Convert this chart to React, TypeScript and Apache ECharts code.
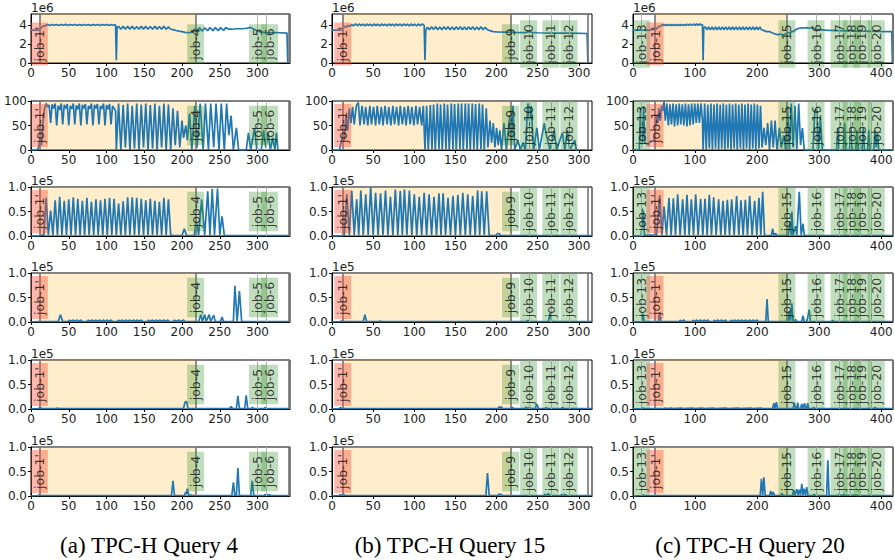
import React, { useEffect, useRef } from "react";
import * as echarts from "echarts";

// ---------------- DATA ----------------
// Row 1: memory (units of 1e6), Row 2: CPU (%), Rows 3-6: I/O metrics (units of 1e5)

// (a) TPC-H Query 4
const q4XMax = 343;
const q4XTicks = [0, 50, 100, 150, 200, 250, 300];
const q4Phase = [11, 218];
const q4PhaseLines = [11, 218, 341];
const q4JobLines = [300, 311];
const q4Jobs: [string, number][] = [["job-1'", 11], ["job-4", 218], ["job-5", 300], ["job-6", 316]];

const q4Mem = [[0,3.45],[10,3.45],[12,3.55],[14,3.75],[16,3.85],[18,3.9],[20,3.95],
[22,4.05],[25,3.95],[28,4.05],[31,3.96],[34,4.05],[37,3.95],[40,4.05],[43,3.96],[46,4.06],[49,3.95],[52,4.05],[55,3.96],[58,4.05],[61,3.95],[64,4.04],[67,3.95],[70,4.05],[73,3.96],[76,4.05],[79,3.95],[82,4.04],[85,3.96],[88,4.05],[91,3.95],[94,4.05],[97,3.96],[100,4.05],[103,3.95],[106,4.05],[109,3.96],[111,4.02],
[112,3.98],[113,0.3],[114,3.75],
[116,3.85],[119,3.55],[122,3.85],[125,3.55],[128,3.85],[131,3.56],[134,3.85],[137,3.55],[140,3.84],[143,3.55],[146,3.85],[149,3.56],[152,3.85],[155,3.55],[158,3.84],[161,3.55],[164,3.85],[167,3.56],[170,3.84],[173,3.55],[176,3.85],[179,3.55],[182,3.8],[185,3.55],[188,3.5],[192,3.42],[196,3.35],[200,3.3],[204,3.22],[208,3.2],[212,3.22],[214,3.3],
[217,3.6],[220,3.35],[223,3.7],[227,3.35],[230,3.7],[234,3.4],[237,3.72],[241,3.4],[244,3.72],[248,3.4],[251,3.72],[255,3.42],[258,3.72],[262,3.55],
[266,3.55],[272,3.6],[280,3.6],[286,3.65],[290,3.75],[294,3.6],[298,3.45],[302,3.3],[308,3.22],[320,3.2],[330,3.18],[339,3.15],[340,0.05]];

const q4Cpu = [[0,0],[8,0],[10,5],[12,25],[14,10],[16,60],[18,85],[20,95],
[22,88],[24,92],[26,55],[28,93],[30,85],[32,95],[34,50],[36,90],[38,82],[40,95],[42,52],[44,92],[46,85],[48,94],[50,50],[52,90],[54,84],[56,95],[58,52],[60,91],[62,83],[64,95],[66,50],[68,92],[70,85],[72,94],[74,52],[76,90],[78,84],[80,95],[82,50],[84,92],[86,85],[88,94],[90,52],[92,90],[94,84],[96,95],[98,50],[100,92],[102,83],[104,94],[106,52],[108,90],[110,85],[112,80],
[113,0],
[116,95],[119,0],[122,92],[125,5],[128,95],[131,0],[134,90],[137,3],[140,95],[143,0],[146,93],[149,5],[152,95],[155,0],[158,92],[161,3],[164,95],[167,0],[170,90],[173,5],[176,95],[179,0],[182,93],[185,0],[188,85],[191,10],[194,80],[197,5],[200,60],[202,25],[205,50],[207,20],[210,75],[213,0],
[217,90],[220,5],[224,95],[228,0],[231,95],[235,0],[238,95],[242,5],[245,95],[249,0],[252,95],[256,0],[259,95],[262,30],[265,70],[268,0],[272,45],[275,0],[285,0],[288,35],[291,0],[296,45],[299,0],[305,0],[308,40],[311,5],[314,35],[317,0],[320,25],[323,0],[325,35],[327,0]];

const q4M3 = [[0,0],[10,0],[14,0.02],[17,0.02],[20,0.78],[23,0.02],[26,0.52],[29,0.02],[32,0.73],[35,0.02],[38,0.8],[41,0.02],[44,0.72],[47,0.02],[50,0.75],[53,0.02],[56,0.79],[59,0.02],[62,0.76],[65,0.02],[68,0.72],[71,0.02],[74,0.78],[77,0.02],[80,0.7],[83,0.02],[86,0.75],[89,0.02],[92,0.73],[95,0.02],[98,0.76],[101,0.02],[104,0.78],[107,0.02],[110,0.76],[113,0.02],[116,0.66],[119,0.02],[122,0.71],[125,0.02],[128,0.79],[131,0.02],[134,0.79],[137,0.02],[140,0.78],[143,0.02],[146,0.76],[149,0.02],[152,0.73],[155,0.02],[158,0.76],[161,0.02],[164,0.72],[167,0.02],[170,0.7],[173,0.02],[176,0.78],[179,0.02],[182,0.75],[185,0.02],[188,0.01],[200,0.01],[203,0.15],[206,0.01],[216,0.01],[219,0.3],[222,0.02],[226,0.75],[230,0.02],[234,0.91],[237,0.02],[240,0.96],[243,0.02],[247,0.97],[250,0.02],[253,0.4],[256,0.01],[343,0.01]];

const q4M4 = [[0,0],[10,0.01],[36,0.01],[39,0.15],[42,0.01],[49,0.01],[51,0.04],[53,0.01],[56,0.04],[58,0.01],[61,0.04],[63,0.01],[66,0.04],[68,0.01],[74,0.01],[76,0.04],[78,0.01],[81,0.04],[83,0.01],[86,0.04],[88,0.01],[91,0.04],[93,0.01],[96,0.04],[98,0.01],[101,0.04],[103,0.01],[106,0.04],[108,0.01],[114,0.01],[116,0.04],[118,0.01],[121,0.04],[123,0.01],[126,0.04],[128,0.01],[131,0.04],[133,0.01],[136,0.04],[138,0.01],[141,0.04],[143,0.01],[146,0.04],[148,0.01],[154,0.01],[156,0.04],[158,0.01],[161,0.04],[163,0.01],[166,0.04],[168,0.01],[171,0.04],[173,0.01],[176,0.04],[178,0.01],[181,0.04],[183,0.01],[188,0.01],[190,0.04],[192,0.01],[196,0.04],[198,0.01],[202,0.04],[204,0.01],[222,0.01],[225,0.15],[227,0.01],[230,0.15],[232,0.01],[236,0.15],[238,0.01],[242,0.14],[244,0.01],[251,0.01],[253,0.1],[255,0.01],[268,0.01],[270,0.74],[273,0.01],[276,0.63],[279,0.01],[343,0.01]];

const q4M5 = [[0,0],[10,0.01],[12,0.03],[14,0.01],[34,0.01],[35,0.02],[37,0.01],[202,0.01],[204,0.14],[206,0.15],[208,0.01],[263,0.01],[265,0.05],[267,0.01],[272,0.01],[274,0.27],[276,0.01],[283,0.01],[285,0.28],[287,0.01],[292,0.01],[293,0.03],[295,0.01],[309,0.01],[310,0.03],[312,0.01],[343,0.01]];

const q4M6 = [[0,0],[10,0.01],[11,0.03],[13,0.01],[186,0.01],[188,0.31],[190,0.01],[203,0.01],[205,0.08],[206,0.04],[207,0.15],[209,0.01],[212,0.02],[214,0.01],[266,0.01],[268,0.28],[270,0.01],[272,0.01],[274,0.57],[276,0.01],[291,0.01],[293,0.31],[295,0.01],[309,0.01],[310,0.03],[312,0.01],[315,0.03],[317,0.01],[343,0.01]];

// (b) TPC-H Query 15
const q15XMax = 316;
const q15XTicks = [0, 50, 100, 150, 200, 250, 300];
const q15Phase = [13, 217];
const q15PhaseLines = [13, 217, 311];
const q15JobLines = [240, 266, 288];
const q15Jobs: [string, number][] = [["job-1'", 13], ["job-9", 217], ["job-10", 239], ["job-11", 266], ["job-12", 288]];

const q15Mem = [[0,3.45],[10,3.45],[12,3.5],[14,3.7],[16,3.85],[18,3.8],[20,3.95],[22,3.85],
[24,4.05],[26,3.9],[28.5,4.1],[31,3.92],[33,4.1],[35.5,3.92],[37.5,4.08],[40,3.9],[42,4.1],[44.5,3.92],[46.5,4.08],[49,3.9],[51,4.1],[53.5,3.92],[55.5,4.08],[58,3.9],[60,4.1],[62.5,3.92],[64.5,4.08],[67,3.9],[69,4.1],[71.5,3.92],[73.5,4.08],[76,3.9],[78,4.1],[80.5,3.92],[82.5,4.08],[85,3.9],[87,4.1],[89.5,3.92],[91.5,4.08],[94,3.9],[96,4.1],[98.5,3.92],[100.5,4.08],[103,3.9],[105,4.1],[107.5,3.92],[109.5,4.1],[112,3.95],[113,0.3],[114,3.5],
[116,3.75],[118.5,3.5],[121,3.8],[123.5,3.52],[126,3.8],[128.5,3.5],[131,3.78],[133.5,3.5],[136,3.8],[138.5,3.52],[141,3.8],[143.5,3.5],[146,3.78],[148.5,3.5],[151,3.8],[153.5,3.52],[156,3.8],[158.5,3.5],[161,3.78],[163.5,3.5],[166,3.8],[168.5,3.52],[171,3.8],[173.5,3.5],[176,3.78],[178.5,3.5],[181,3.8],[183.5,3.5],[186,3.75],[189,3.5],[192,3.4],[196,3.3],[200,3.28],[210,3.25],[220,3.22],[235,3.2],[240,3.3],[243,3.22],[250,3.18],[270,3.15],[290,3.13],[310,3.1],[311,0.05]];

const q15Cpu = [[0,0],[9,0],[11,15],[13,30],[15,20],[17,70],[19,40],[21,85],[23,55],
[25,88],[27,52],[29.5,90],[32,97],[34,50],[36.5,90],[39,52],[41,88],[43.5,50],[46,90],[48,52],[50.5,88],[53,50],[55,90],[57.5,52],[60,88],[62,50],[64.5,90],[67,52],[69,88],[71.5,50],[74,90],[76,52],[78.5,88],[81,50],[83,90],[85.5,52],[88,88],[90,50],[92.5,90],[95,52],[97,88],[99.5,50],[102,90],[104,52],[106.5,88],[109,50],[111,90],[113,0],
[115,90],[117,0],[119.5,92],[121.5,2],[123.5,93],[125.5,0],[128,95],[130,2],[132,93],[134,0],[136.5,95],[138.5,2],[140.5,93],[142.5,0],[145,95],[147,2],[149,94],[151,0],[153.5,95],[155.5,2],[157.5,95],[159.5,0],[162,95],[164,2],[166,95],[168,0],[170.5,95],[172.5,2],[174.5,94],[176.5,0],[179,95],[181,2],[183,93],[185,0],[187.5,85],[189.5,5],
[192,60],[194,15],[196,55],[198,5],[200,45],[202,10],[204,40],[206,0],[209,55],[212,0],[216,70],[218,10],[220,90],[222,0],[226,20],[229,0],[232,15],[235,0],[238,95],[240,60],[242,90],[245,0],[249,45],[252,0],[258,55],[260,35],[262,20],[265,0],[270,40],[273,0],[280,35],[283,0],[286,40],[289,0],[295,20],[297,0],[300,0]];

const q15M3 = [[0,0],[12,0],[15,0.02],[18,0.85],[21,0.02],[24,0.93],[27,0.02],[30,0.75],[32.5,0.02],[35,0.93],[38,0.02],[41,0.85],[44,0.02],[47,1.0],[50,0.02],[53,0.88],[56,0.02],[59,0.87],[62,0.02],[65,0.93],[68,0.02],[71,0.8],[74,0.02],[77,0.95],[80,0.02],[83,0.92],[85.5,0.02],[88,0.95],[91,0.02],[94,0.93],[97,0.02],[100,0.85],[103,0.02],[106,0.8],[109,0.02],[112,0.88],[115,0.02],[118,0.85],[121,0.02],[124,0.8],[127,0.02],[130,0.87],[132.5,0.02],[135,0.87],[138,0.02],[141,0.78],[144,0.02],[147,0.82],[150,0.02],[153,0.84],[156,0.02],[159,0.88],[162,0.02],[165,0.85],[168,0.02],[171,0.82],[174,0.02],[177,0.93],[179.5,0.02],[182,0.91],[185,0.02],[188,0.91],[191,0.01],[199,0.01],[201,0.05],[203,0.05],[205,0.01],[316,0.01]];

const q15M4 = [[0,0],[10,0.01],[12,0.02],[14,0.01],[38,0.01],[40,0.15],[42,0.01],[58,0.01],[59,0.02],[60,0.01],[236,0.01],[238,0.03],[240,0.01],[263,0.01],[265,0.18],[267,0.01],[316,0.01]];

const q15M5 = [[0,0],[9,0.01],[10,0.03],[12,0.01],[202,0.01],[203,0.04],[206,0.04],[207,0.01],[217,0.01],[219,0.03],[221,0.01],[234,0.01],[236,0.04],[238,0.01],[240,0.04],[242,0.01],[247,0.01],[249,0.1],[251,0.01],[259,0.01],[260,0.03],[262,0.01],[279,0.01],[280,0.03],[282,0.01],[316,0.01]];

const q15M6 = [[0,0],[9,0.01],[10,0.03],[12,0.01],[14,0.03],[16,0.01],[187,0.01],[189,0.47],[191,0.01],[202,0.01],[203,0.04],[206,0.03],[207,0.01],[258,0.01],[259,0.04],[261,0.01],[263,0.05],[265,0.01],[278,0.01],[279,0.03],[281,0.01],[283,0.03],[285,0.01],[316,0.01]];

// (c) TPC-H Query 20
const q20XMax = 419;
const q20XTicks = [0, 100, 200, 300, 400];
const q20Phase = [35.5, 247];
const q20PhaseLines = [35.5, 247, 418];
const q20JobLines = [14, 295, 332, 350, 367, 384];
const q20Jobs: [string, number][] = [["job-13", 14], ["job-1'", 35.5], ["job-15", 248], ["job-16", 295], ["job-17", 332], ["job-18", 352], ["job-19", 369], ["job-20", 392]];

const q20Mem = [[0,3.45],[28,3.45],[30,3.5],[36,3.5],[38,3.6],[40,3.75],[42,3.85],[44,3.85],[46,3.95],
[48,4.05],[50.5,3.92],[53,4.05],[55.5,3.92],[58,4.06],[60.5,3.92],[63,4.05],[65.5,3.93],[68,4.06],[70.5,3.92],[73,4.05],[75.5,3.92],[78,4.06],[80.5,3.93],[83,4.06],[85.5,3.92],[88,4.1],[90.5,3.94],[93,4.1],[95.5,3.94],[98,4.1],[100.5,3.95],[103,4.12],[105.5,3.95],[108,4.12],[110.5,3.98],[112,4.05],[113,0.3],[114,3.7],
[116.5,3.8],[119,3.5],[122,3.8],[124.5,3.48],[127.5,3.8],[130,3.48],[133,3.8],[135.5,3.48],[138.5,3.8],[141,3.48],[144,3.8],[146.5,3.48],[149.5,3.8],[152,3.48],[155,3.8],[157.5,3.48],[160.5,3.8],[163,3.48],[166,3.8],[168.5,3.48],[171.5,3.8],[174,3.48],[177,3.8],[179.5,3.48],[182.5,3.8],[185,3.48],[188,3.8],[190.5,3.48],[193.5,3.8],[196,3.48],[199,3.8],[201.5,3.48],[204.5,3.8],[207,3.5],
[210,3.45],[213,3.35],[216,3.3],[220,3.3],[223,3.2],[227,3.1],[231,3.0],[235,2.98],[238,3.05],[241,2.95],[244,3.0],[247,3.1],[250,3.2],[253,3.1],[256,3.35],[259,3.3],[262,3.5],[265,3.6],[268,3.65],[272,3.7],[276,3.68],[280,3.72],[284,3.65],[288,3.72],[292,3.6],[296,3.55],[300,3.5],[310,3.45],[330,3.4],[360,3.35],[390,3.32],[417,3.3],[418,0.05]];

const q20Cpu = [[0,0],[10,0],[12,85],[14,10],[16,30],[17,90],[19,15],[22,12],[26,15],[30,18],[34,20],[36,45],[38,70],[40,55],[42,85],[44,60],[46,90],[48,80],[50,100],[52,60],
[54.5,95],[57,50],[59.5,93],[62,52],[64.5,95],[67,48],[69.5,93],[72,50],[74.5,95],[77,52],[79.5,93],[82,50],[84.5,95],[87,48],[89.5,93],[92,50],[94.5,95],[97,52],[99.5,95],[102,55],[104.5,95],[107,55],[109.5,95],[112,60],[113,0],
[115.5,95],[118,0],[120.5,93],[123,3],[125.5,95],[128,0],[130.5,93],[133,3],[135.5,95],[138,0],[140.5,93],[143,3],[145.5,95],[148,0],[150.5,93],[153,3],[155.5,95],[158,0],[160.5,93],[163,3],[165.5,95],[168,0],[170.5,93],[173,3],[175.5,95],[178,0],[180.5,93],[183,3],[185.5,95],[188,0],[190.5,93],[193,3],[195.5,95],[198,0],[200.5,93],[203,3],[205.5,90],[208,5],
[211,45],[214,10],[217,55],[220,0],[223,60],[226,5],[229,60],[232,0],[236,45],[239,5],[243,30],[246,0],
[249,90],[252,0],[255,95],[258,5],[261,90],[264,0],[267,95],[270,10],[273,45],[276,0],[290,0],[293,80],[296,85],[299,0],[302,65],[305,0],[328,0],[330,45],[332,0],[339,0],[341,55],[343,0],[349,0],[351,50],[353,0],[359,0],[361,40],[363,0],[369,0],[371,45],[373,0],[378,0],[380,40],[382,0],[388,0],[390,40],[392,5],[394,35],[396,0],[419,0]];

const q20M3 = [[0,0],[13,0],[15,0.3],[16.7,0.52],[18.5,0.02],[38,0.02],[43,0.83],[46.5,0.02],[50,0.6],[54,0.02],[58,0.78],[61.5,0.02],[65,0.77],[68.5,0.02],[72,0.85],[76,0.02],[80,0.75],[83.5,0.02],[87,0.84],[90.5,0.02],[94,0.75],[97.5,0.02],[101,0.85],[105,0.02],[109,0.76],[112.5,0.02],[116,0.76],[119.5,0.02],[123,0.84],[126.5,0.02],[130,0.79],[134,0.02],[138,0.75],[141.5,0.02],[145,0.72],[148.5,0.02],[152,0.74],[155.5,0.02],[159,0.75],[163,0.02],[167,0.82],[170.5,0.02],[174,0.73],[177.5,0.02],[181,0.74],[184.5,0.02],[188,0.82],[192,0.02],[196,0.72],[199.5,0.02],[203,0.78],[206,0.02],[209,0.9],[212,0.01],[223,0.01],[225,0.15],[227,0.02],[230,0.05],[232,0.01],[250,0.01],[253,0.3],[255,0.02],[256,0.5],[258,0.02],[262,0.2],[264,0.02],[268,0.9],[271,0.02],[274,0.25],[276,0.02],[280,0.01],[419,0.01]];

const q20M4 = [[0,0],[14,0.01],[16,0.17],[18,0.01],[41,0.01],[43,0.2],[45,0.01],[75,0.01],[76,0.04],[78,0.01],[82,0.04],[84,0.01],[96,0.01],[97,0.04],[99,0.01],[103,0.04],[105,0.01],[109,0.04],[111,0.01],[115,0.04],[117,0.01],[121,0.04],[123,0.01],[130,0.01],[131,0.04],[133,0.01],[137,0.04],[139,0.01],[143,0.04],[145,0.01],[149,0.04],[151,0.01],[157,0.01],[158,0.04],[160,0.01],[164,0.04],[166,0.01],[170,0.04],[172,0.01],[176,0.04],[178,0.01],[182,0.04],[184,0.01],[188,0.04],[190,0.01],[194,0.04],[196,0.01],[200,0.04],[202,0.01],[214,0.01],[216,0.47],[218,0.01],[250,0.01],[252,0.22],[254,0.01],[256,0.38],[258,0.01],[262,0.05],[264,0.01],[272,0.01],[274,0.13],[276,0.01],[280,0.01],[282,0.12],[284,0.25],[286,0.01],[320,0.01],[322,0.03],[324,0.01],[419,0.01]];

const q20M5 = [[0,0],[14,0.01],[16,0.02],[18,0.01],[50,0.01],[52,0.02],[54,0.01],[62,0.02],[64,0.01],[78,0.02],[80,0.01],[96,0.02],[98,0.01],[112,0.02],[114,0.01],[130,0.02],[132,0.01],[150,0.02],[152,0.01],[170,0.02],[172,0.01],[190,0.02],[192,0.01],[206,0.02],[208,0.01],[225,0.01],[227,0.12],[229,0.01],[231,0.14],[233,0.01],[258,0.01],[260,0.13],[262,0.01],[264,0.01],[265.5,0.13],[267,0.01],[270,0.01],[272,0.1],[274,0.01],[275,0.01],[276.5,0.12],[278,0.01],[280,0.01],[281.5,0.12],[283,0.01],[290,0.01],[291,0.03],[293,0.01],[388,0.01],[390,0.03],[392,0.01],[419,0.01]];

const q20M6 = [[0,0],[14,0.01],[16,0.02],[18,0.01],[205,0.01],[207,0.35],[209,0.02],[211,0.38],[213,0.01],[220,0.01],[222,0.1],[224,0.02],[226,0.08],[228,0.01],[238,0.01],[240,0.05],[242,0.01],[257,0.01],[259,0.12],[261,0.02],[264,0.14],[266,0.02],[268,0.13],[270,0.02],[272,0.25],[274,0.02],[276,0.15],[278,0.02],[280,0.18],[282,0.01],[290,0.01],[292,0.03],[294,0.01],[312,0.01],[314,0.73],[316,0.01],[330,0.01],[332,0.03],[334,0.01],[340,0.03],[342,0.01],[360,0.02],[362,0.01],[419,0.01]];

// y-axis settings per row
const memYMax = 5.15;
const memYTicks = [0, 2, 4];
const cpuYMax = 100;
const cpuYTicks = [0, 50, 100];
const ioYMax = 1.0;
const ioYTicks = [0, 0.5, 1.0];

const captions = ["(a) TPC-H Query 4", "(b) TPC-H Query 15", "(c) TPC-H Query 20"];

// ---------------- LAYOUT / STYLE ----------------
const FONT = "DejaVu Sans";
const BLUE = "#1f77b4";
const COL_LEFT = [31, 332, 633];
const COL_WIDTH = [259, 260, 260];
const ROW_TOP = [14, 101, 187, 273, 360, 447];
const ROW_H = 49;
const TICK_FONT = 12;

const queries = [
  { series: [q4Mem, q4Cpu, q4M3, q4M4, q4M5, q4M6], xMax: q4XMax, xTicks: q4XTicks, phase: q4Phase, phaseLines: q4PhaseLines, jobLines: q4JobLines, jobs: q4Jobs },
  { series: [q15Mem, q15Cpu, q15M3, q15M4, q15M5, q15M6], xMax: q15XMax, xTicks: q15XTicks, phase: q15Phase, phaseLines: q15PhaseLines, jobLines: q15JobLines, jobs: q15Jobs },
  { series: [q20Mem, q20Cpu, q20M3, q20M4, q20M5, q20M6], xMax: q20XMax, xTicks: q20XTicks, phase: q20Phase, phaseLines: q20PhaseLines, jobLines: q20JobLines, jobs: q20Jobs },
];

const rows = [
  { max: memYMax, ticks: memYTicks, unit: "1e6", mid: 2, fmt: (v: number) => String(v) },
  { max: cpuYMax, ticks: cpuYTicks, unit: "", mid: 50, fmt: (v: number) => String(v) },
  { max: ioYMax, ticks: ioYTicks, unit: "1e5", mid: 0.5, fmt: (v: number) => v.toFixed(1) },
  { max: ioYMax, ticks: ioYTicks, unit: "1e5", mid: 0.5, fmt: (v: number) => v.toFixed(1) },
  { max: ioYMax, ticks: ioYTicks, unit: "1e5", mid: 0.5, fmt: (v: number) => v.toFixed(1) },
  { max: ioYMax, ticks: ioYTicks, unit: "1e5", mid: 0.5, fmt: (v: number) => v.toFixed(1) },
];

function buildOption() {
  const grid: any[] = [];
  const xAxis: any[] = [];
  const yAxis: any[] = [];
  const series: any[] = [];
  rows.forEach((row, r) => {
    queries.forEach((q, c) => {
      const idx = r * 3 + c;
      grid.push({
        left: COL_LEFT[c], top: ROW_TOP[r], width: COL_WIDTH[c], height: ROW_H,
        show: true, borderColor: "#000", borderWidth: 1, backgroundColor: "transparent",
        outerBoundsMode: "none", containLabel: false,
      });
      xAxis.push({
        type: "value", gridIndex: idx, min: 0, max: q.xMax,
        axisLine: { show: true, onZero: false, lineStyle: { color: "#000", width: 1 } },
        axisTick: { show: true, length: 3, customValues: q.xTicks, lineStyle: { color: "#000" } },
        axisLabel: { customValues: q.xTicks, fontSize: TICK_FONT, fontFamily: FONT, color: "#222", margin: 4 },
        splitLine: { show: false },
      });
      yAxis.push({
        type: "value", gridIndex: idx, min: 0, max: row.max,
        name: row.unit, nameLocation: "end", nameGap: 0,
        nameTextStyle: { fontSize: TICK_FONT, fontFamily: FONT, color: "#222", align: "left", verticalAlign: "bottom", lineHeight: 12 },
        axisLine: { show: true, onZero: false, lineStyle: { color: "#000", width: 1 } },
        axisTick: { show: true, length: 3, customValues: row.ticks, lineStyle: { color: "#000" } },
        axisLabel: { customValues: row.ticks, fontSize: TICK_FONT, fontFamily: FONT, color: "#222", margin: 4, formatter: (v: number) => row.fmt(v) },
        splitLine: { show: false },
      });
      // phase shading + vertical lines
      series.push({
        type: "line", xAxisIndex: idx, yAxisIndex: idx, data: [], z: 1, silent: true,
        markArea: {
          silent: true,
          itemStyle: { color: "rgba(255,165,0,0.2)" },
          data: [[{ xAxis: q.phase[0] }, { xAxis: q.phase[1] }]],
        },
        markLine: {
          silent: true, symbol: ["none", "none"], label: { show: false },
          data: [
            ...q.jobLines.map((x) => ({ xAxis: x, lineStyle: { color: "#b5b5b5", width: 1, type: "solid" } })),
            ...q.phaseLines.map((x) => ({ xAxis: x, lineStyle: { color: "#737373", width: 1.6, type: "solid" } })),
          ],
        },
      });
      series.push({
        type: "line", xAxisIndex: idx, yAxisIndex: idx, data: q.series[r], z: 3, silent: true,
        showSymbol: false, symbol: "none",
        lineStyle: { color: BLUE, width: 1.7 }, itemStyle: { color: BLUE },
      });
      series.push({
        type: "scatter", xAxisIndex: idx, yAxisIndex: idx, z: 5, silent: true,
        symbolSize: 1, itemStyle: { color: "transparent" },
        data: q.jobs.map(([name, x]) => ({
          name, value: [x, row.mid],
          label: { backgroundColor: name === "job-1'" ? "rgba(245,85,60,0.52)" : "rgba(60,150,50,0.4)" },
        })),
        label: {
          show: true, position: "inside", rotate: 90, formatter: "{b}",
          fontSize: 12.5, lineHeight: 13, fontFamily: FONT, color: "#111", padding: [2, 4, 2, 4],
        },
      });
    });
  });
  const graphic = captions.map((t, i) => ({
    type: "text", x: [149, 450, 750][i], y: 545,
    style: { text: t, fontSize: 23, fontFamily: "Liberation Serif", fill: "#000", align: "center", verticalAlign: "middle" },
  }));
  return { animation: false, backgroundColor: "#fff", grid, xAxis, yAxis, series, graphic };
}

export default function App() {
  const ref = useRef<HTMLDivElement>(null);
  useEffect(() => {
    document.body.style.margin = "0";
    const chart = echarts.init(ref.current!, null, { renderer: "svg" });
    chart.setOption(buildOption() as any);
    return () => chart.dispose();
  }, []);
  return <div ref={ref} style={{ width: 895, height: 560 }} />;
}
